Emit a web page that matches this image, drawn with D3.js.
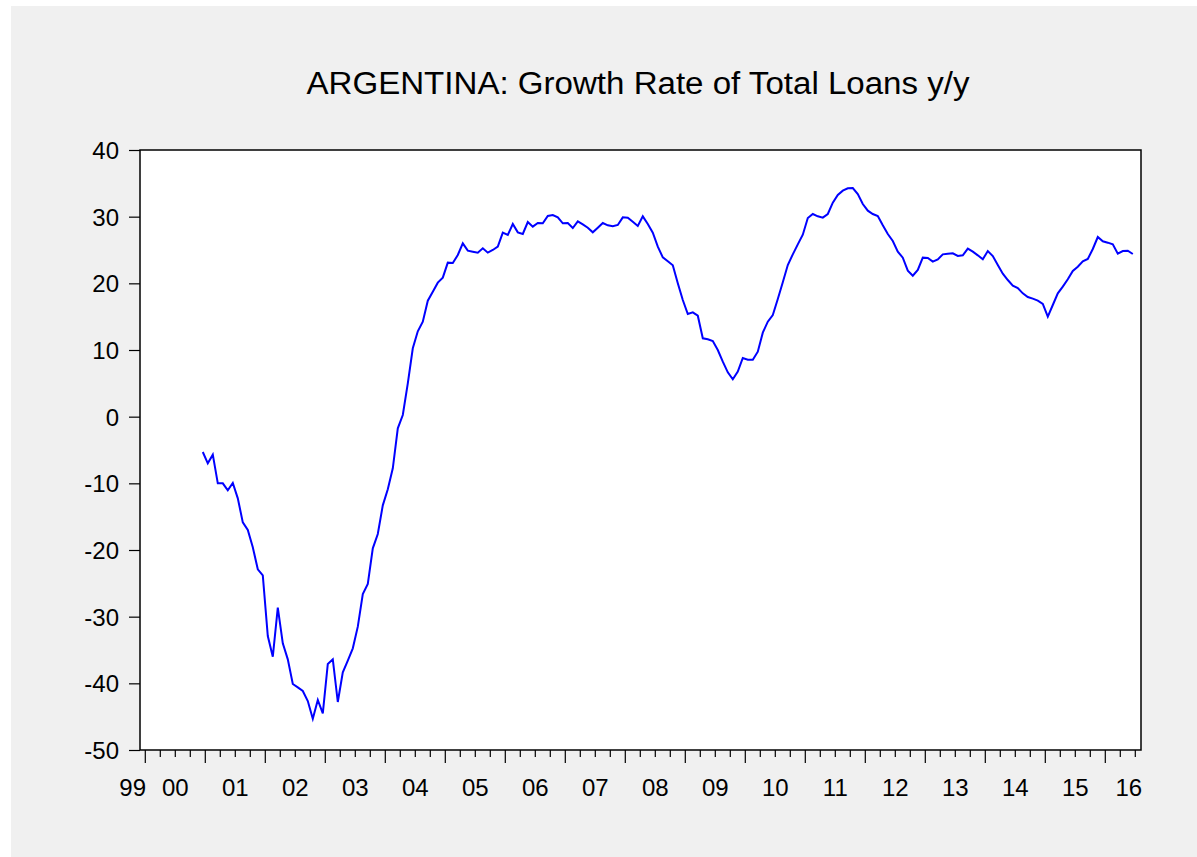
<!DOCTYPE html>
<html><head><meta charset="utf-8">
<script src="https://cdn.jsdelivr.net/npm/d3@7"></script>
<style>html,body{margin:0;padding:0;background:#fff;}svg{display:block;}</style>
</head><body>
<svg id="chart" width="1197" height="857"></svg>
<script>
const title = "ARGENTINA: Growth Rate of Total Loans y/y";
// Monthly observations, first = Dec 2000
const startYear = 2000, startMonth = 11; // 0-based month index (Dec)
const loanGrowth = [
 -5.3,-7.0,-5.7,-10.0,-10.0,-11.05,-9.95,-12.25,-15.85,-17.0,-19.6,-22.9,
 -23.8,-32.9,-36.0,-28.65,-34.0,-36.4,-40.1,-40.6,-41.15,-42.65,-45.3,-42.5,
 -44.5,-37.1,-36.4,-42.8,-38.35,-36.6,-34.75,-31.5,-26.6,-25.1,-19.75,-17.6,
 -13.3,-10.9,-7.75,-1.75,0.25,5.0,10.25,12.8,14.25,17.4,18.75,20.1,
 20.85,23.1,23.05,24.25,26.0,24.9,24.75,24.6,25.25,24.6,25.0,25.5,
 27.6,27.25,28.9,27.65,27.4,29.2,28.5,29.05,29.0,30.1,30.25,29.9,
 29.0,29.05,28.3,29.3,28.85,28.35,27.65,28.35,29.05,28.7,28.55,28.75,
 29.9,29.85,29.25,28.6,30.05,28.9,27.6,25.5,23.9,23.3,22.7,20.0,
 17.5,15.4,15.65,15.15,11.75,11.6,11.35,10.0,8.25,6.65,5.6,6.75,
 8.8,8.55,8.55,9.75,12.6,14.25,15.25,17.65,20.15,22.75,24.35,25.85,
 27.3,29.8,30.4,30.05,29.85,30.4,32.1,33.25,33.9,34.25,34.3,33.4,
 31.9,30.9,30.4,30.1,28.7,27.4,26.35,24.75,23.85,21.9,21.15,22.0,
 23.85,23.8,23.25,23.6,24.35,24.45,24.5,24.1,24.2,25.2,24.75,24.2,
 23.6,24.85,24.1,22.75,21.45,20.5,19.65,19.3,18.5,17.95,17.7,17.4,
 16.9,15.0,16.75,18.5,19.5,20.6,21.85,22.5,23.3,23.65,25.15,26.95,
 26.3,26.1,25.85,24.45,24.85,24.9,24.4
];
const yTicks = [40,30,20,10,0,-10,-20,-30,-40,-50];
const yearLabels = ["99","00","01","02","03","04","05","06","07","08","09","10","11","12","13","14","15","16"];
const years = [1999,2000,2001,2002,2003,2004,2005,2006,2007,2008,2009,2010,2011,2012,2013,2014,2015,2016];

const svg = d3.select("#chart");
const L=140, R=1141, T=150, B=750;
const xDomain = [1999.9117, 2016.595];
const x = d3.scaleLinear().domain(xDomain).range([L, R]);
const y = d3.scaleLinear().domain([-50, 40]).range([B, T]);

svg.append("rect").attr("x",11).attr("y",6).attr("width",1197-11).attr("height",857-6).attr("fill","#f0f0f0");
svg.append("rect").attr("x",L).attr("y",T).attr("width",R-L).attr("height",B-T).attr("fill","#fff");

svg.append("text").attr("x",638).attr("y",94).attr("text-anchor","middle")
  .attr("font-family","Liberation Sans, Arial, sans-serif").attr("font-size",31)
  .attr("textLength",663).attr("lengthAdjust","spacingAndGlyphs").attr("fill","#000").text(title);

// Y axis
const yAxis = d3.axisLeft(y).tickValues(yTicks).tickSize(11).tickPadding(10).tickFormat(d => String(d));
const gy = svg.append("g").attr("transform",`translate(${L},0)`).call(yAxis);
gy.select(".domain").remove();
gy.selectAll("line").attr("stroke","#000").attr("stroke-width",1.2);
gy.selectAll("text").attr("font-family","Liberation Sans, Arial, sans-serif").attr("font-size",24).attr("fill","#000").attr("dy","0.35em");

// X axis quarterly ticks
const quarters = d3.range(2000, 2016.6, 0.25).filter(v => v <= xDomain[1]);
const gx = svg.append("g");
gx.selectAll("line").data(quarters).join("line")
  .attr("x1",d=>x(d)).attr("x2",d=>x(d)).attr("y1",B)
  .attr("y2",d=> Math.abs(d-Math.round(d))<1e-6 ? B+13 : B+7)
  .attr("stroke","#000").attr("stroke-width",1.2);
gx.selectAll("text").data(years).join("text")
  .attr("x",(d,i)=>{
    if (d===1999) return x(2000)-12.6;
    if (d===2016) return x(2016)+23.5;
    return x(d+0.5);
  })
  .attr("y",796).attr("text-anchor","middle")
  .attr("font-family","Liberation Sans, Arial, sans-serif").attr("font-size",24).attr("fill","#000")
  .text((d,i)=>yearLabels[i]);

// frame
svg.append("rect").attr("x",L).attr("y",T).attr("width",R-L).attr("height",B-T)
  .attr("fill","none").attr("stroke","#000").attr("stroke-width",1.5);

// line
const pts = loanGrowth.map((v,i)=>({t: startYear + (startMonth + i + 0.5)/12, v}));
const line = d3.line().x(d=>x(d.t)).y(d=>y(d.v));
svg.append("path").datum(pts).attr("d",line).attr("fill","none").attr("stroke","#0000ff").attr("stroke-width",2);
</script>
</body></html>
